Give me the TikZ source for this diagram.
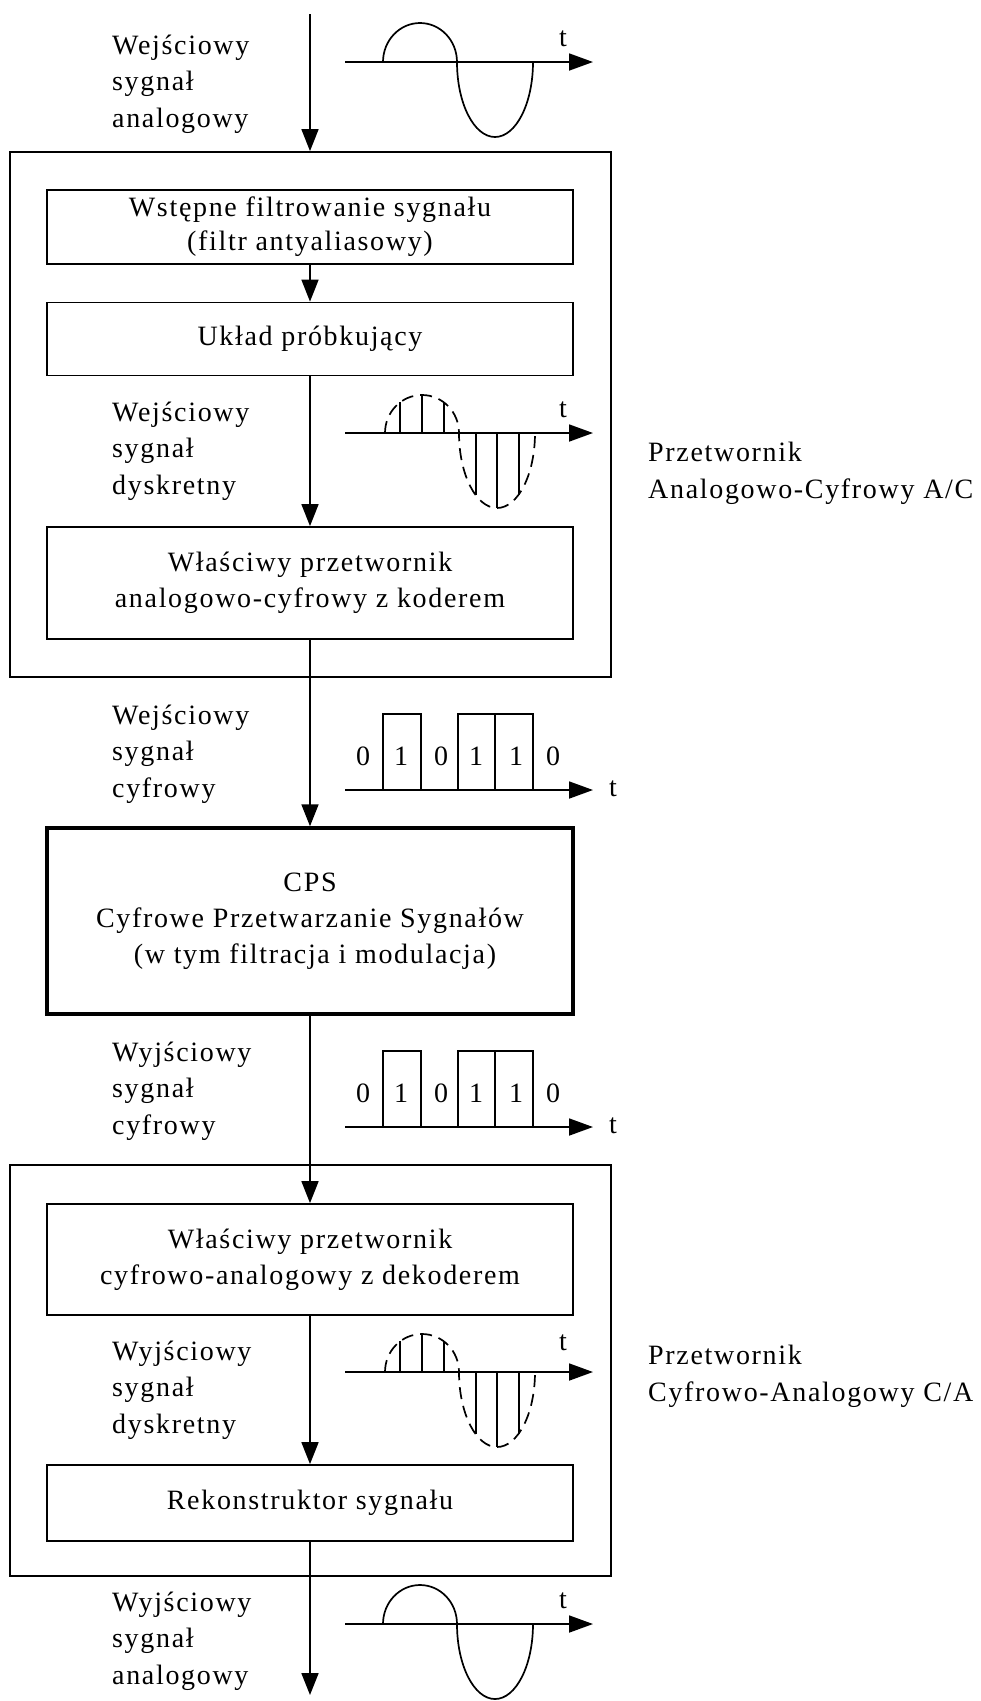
\documentclass[tikz,border=0pt]{standalone}
\usepackage{fontspec}
\setmainfont{Liberation Serif}[LetterSpace=6]
\usetikzlibrary{arrows.meta}

\newcommand\analogsig[2]{%
  \begin{scope}[shift={(0,#2)}]
    \draw[axisline] (345,0) -- (593,0);
    \draw[wave] (383,0) arc[start angle=180,end angle=360,x radius=37,y radius=39]
                        arc[start angle=180,end angle=0,x radius=38,y radius=75];
    \node[tlbl] (#1t) at (563,-16) {t};
  \end{scope}}

\newcommand\discretesig[3]{%
  \begin{scope}[shift={(0,#2)}]
    \draw[axisline] (345,0) -- (593,0);
    \draw[wave,dashedwave] (385,0) arc[start angle=180,end angle=360,x radius=37,y radius=38]
                        arc[start angle=180,end angle=0,x radius=38,y radius=75];
    \draw[stem] (400,0) -- (400,-31) (422,0) -- (422,-38) (444,0) -- (444,-31)
                (476,0) -- (476,62) (497,0) -- (497,75) (519,0) -- (519,62);
    \node[tlbl] (#1t) at (563,#3) {t};
  \end{scope}}

\newcommand\digitalsig[2]{%
  \begin{scope}[shift={(0,#2)}]
    \draw[axisline] (345,0) -- (593,0);
    \draw[pulse] (383,0) -- (383,-76) -- (421,-76) -- (421,0)
                 (458,0) -- (458,-76) -- (533,-76) -- (533,0)
                 (495,-76) -- (495,0);
    \node[bit] (#1d1) at (363,-25) {0};
    \node[bit] (#1d2) at (401,-25) {1};
    \node[bit] (#1d3) at (441,-25) {0};
    \node[bit] (#1d4) at (476,-25) {1};
    \node[bit] (#1d5) at (516,-25) {1};
    \node[bit] (#1d6) at (553,-25) {0};
    \node[tlbl] (#1t) at (613,6) {t};
  \end{scope}}

\newcommand\threelbl[5]{%
  \node[lbl] (#1a) at (112,#2) {#3};
  \node[lbl] (#1b) at (112,#2+36.5) {#4};
  \node[lbl] (#1c) at (112,#2+73) {#5};}

\begin{document}
\begin{tikzpicture}[x=1pt,y=-1pt,
  every node/.style={font=\fontsize{28}{36}\selectfont},
  box/.style={draw, line width=1.8pt, minimum width=526pt, align=center, inner sep=0pt},
  outerbox/.style={draw, line width=1.8pt, minimum width=601pt, inner sep=0pt},
  cpsbox/.style={box, line width=3.4pt},
  flow/.style={line width=1.8pt, -{Triangle[length=22pt,width=17pt]}},
  axisline/.style={line width=1.8pt, -{Triangle[length=24pt,width=17pt]}},
  wave/.style={line width=1.7pt},
  dashedwave/.style={dash pattern=on 12pt off 7pt},
  stem/.style={line width=1.5pt},
  pulse/.style={line width=1.5pt},
  lbl/.style={anchor=base west, inner sep=0pt},
  tlbl/.style={anchor=base, inner sep=0pt},
  bit/.style={anchor=base, inner sep=0pt},
  sidelbl/.style={anchor=base west, inner sep=0pt}
]
\useasboundingbox (0,0) rectangle (981,1701);
\fill[white] (0,0) rectangle (981,1701);

% converter A/C
\node[outerbox, minimum height=525pt] (ac) at (310.5,414.5) {};
\node[box, minimum height=74pt, font=\fontsize{28}{34}\selectfont] (b1) at (310,227) {Wstępne filtrowanie sygnału\\(filtr antyaliasowy)};
\node[box, minimum height=73pt] (b2) at (310,339) {Układ próbkujący};
\node[box, minimum height=112pt] (b3) at (310,583) {Właściwy przetwornik\\analogowo-cyfrowy z koderem};

% CPS
\node[cpsbox, minimum height=186pt] (cps) at (310,921) {CPS\\Cyfrowe Przetwarzanie Sygnałów\\\hspace*{10pt}(w tym filtracja i modulacja)};

% converter C/A
\node[outerbox, minimum height=411pt] (ca) at (310.5,1370.5) {};
\node[box, minimum height=111pt] (b4) at (310,1259.5) {Właściwy przetwornik\\cyfrowo-analogowy z dekoderem};
\node[box, minimum height=76pt] (b5) at (310,1503) {Rekonstruktor sygnału};

\coordinate (in) at (310,14);
\coordinate (out) at (310,1695);

\draw[flow] (in) -- (in |- ac.north);
\draw[flow] (b1) -- (b2);
\draw[flow] (b2) -- (b3);
\draw[flow] (b3) -- (cps);
\draw[flow] (cps) -- (b4);
\draw[flow] (b4) -- (b5);
\draw[flow] (b5) -- (out);

% side labels
\threelbl{l1}{54}{Wejściowy}{sygnał}{analogowy}
\threelbl{l2}{421}{Wejściowy}{sygnał}{dyskretny}
\threelbl{l3}{724}{Wejściowy}{sygnał}{cyfrowy}
\threelbl{l4}{1061}{Wyjściowy}{sygnał}{cyfrowy}
\threelbl{l5}{1360}{Wyjściowy}{sygnał}{dyskretny}
\threelbl{l6}{1611}{Wyjściowy}{sygnał}{analogowy}

% signals
\analogsig{s1}{62}
\discretesig{s2}{433}{-16}
\digitalsig{s3}{790}
\digitalsig{s4}{1127}
\discretesig{s5}{1372}{-22}
\analogsig{s6}{1624}

% converter names
\node[sidelbl] (acn1) at (648,461) {Przetwornik};
\node[sidelbl] (acn2) at (648,498) {Analogowo-Cyfrowy A/C};
\node[sidelbl] (can1) at (648,1364) {Przetwornik};
\node[sidelbl] (can2) at (648,1401) {Cyfrowo-Analogowy C/A};
\end{tikzpicture}
\end{document}
